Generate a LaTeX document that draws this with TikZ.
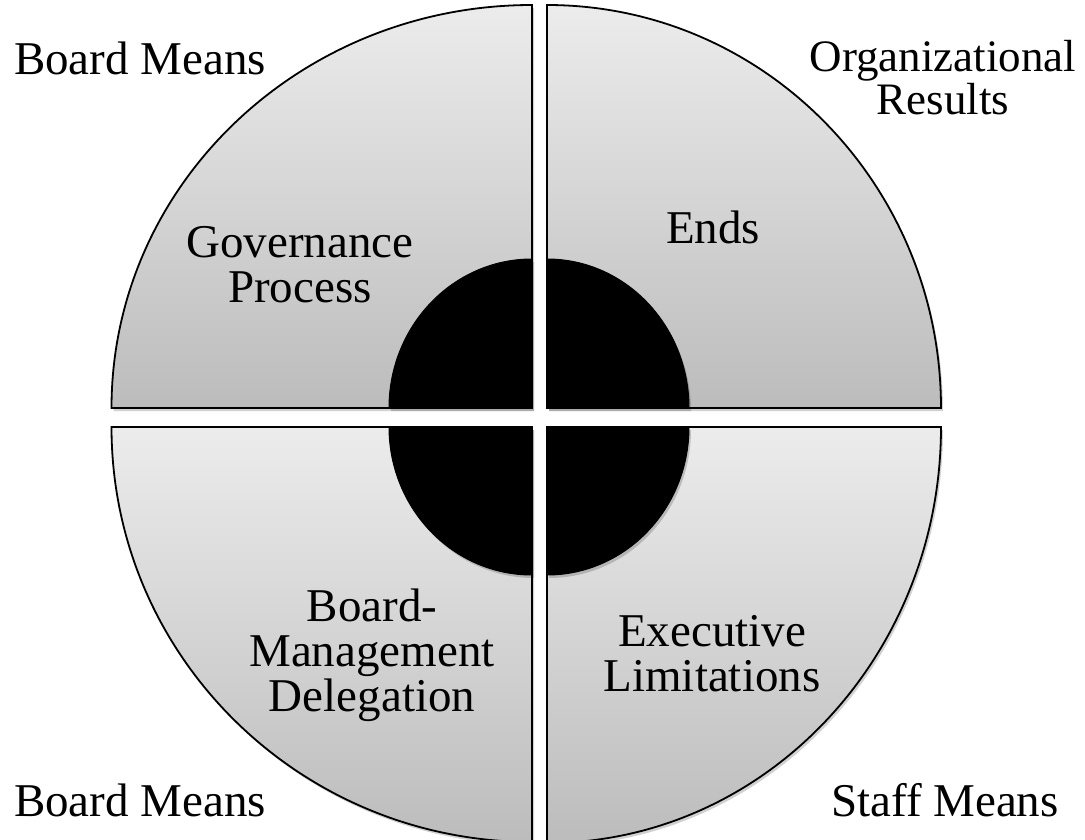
\documentclass[tikz,border=0pt]{standalone}
\usepackage{fontspec}
\setmainfont{Liberation Serif}
\usetikzlibrary{shadows}
\definecolor{qtop}{RGB}{236,236,236}
\definecolor{qbot}{RGB}{188,188,188}
\begin{document}
\begin{tikzpicture}[x=1pt,y=-1pt,
  quad/.style={draw=black,line width=1.8pt,line join=miter,top color=qtop,bottom color=qbot,
    drop shadow={shadow xshift=2pt,shadow yshift=-3pt,opacity=.18,fill=black}},
  hub/.style={draw=black,line width=1pt,fill=black,
    drop shadow={shadow xshift=2pt,shadow yshift=-3pt,opacity=.18,fill=black}},
  lbl/.style={font=\fontsize{47}{45}\selectfont,align=center,inner sep=0pt,text=black}]
\useasboundingbox (0,0) rectangle (1085,840);
% gray quadrants
\path[quad] (532,408) -- (111.5,408) arc[start angle=180,end angle=270,x radius=420.5,y radius=403] -- cycle;
\path[quad] (547,408) -- (547,5) arc[start angle=270,end angle=360,x radius=394,y radius=403] -- cycle;
\path[quad] (532,427) -- (111.5,427) arc[start angle=180,end angle=90,x radius=420.5,y radius=415] -- cycle;
\path[quad] (547,427) -- (941,427) arc[start angle=0,end angle=90,x radius=394,y radius=416] -- cycle;
% black hub quadrants
\path[hub] (532,408) -- (389,408) arc[start angle=180,end angle=270,x radius=143,y radius=149] -- cycle;
\path[hub] (547,408) -- (547,259) arc[start angle=270,end angle=360,x radius=142,y radius=149] -- cycle;
\path[hub] (532,427) -- (389,427) arc[start angle=180,end angle=90,x radius=143,y radius=148] -- cycle;
\path[hub] (547,427) -- (689,427) arc[start angle=0,end angle=90,x radius=142,y radius=148] -- cycle;
% labels
\node[lbl] (bmtl) at (140,58) {Board Means};
\node[lbl,font=\fontsize{45}{43}\selectfont] (org) at (943,78) {Organizational\\Results};
\node[lbl] (gov) at (300,265) {Governance\\Process};
\node[lbl] (ends) at (713,227) {Ends};
\node[lbl] (bmd) at (372,655) {Board-\\Management\\Delegation};
\node[lbl] (exl) at (712,654) {Executive\\Limitations};
\node[lbl] (bmbl) at (140,800) {Board Means};
\node[lbl] (stm) at (945,800) {Staff Means};
\end{tikzpicture}
\end{document}
